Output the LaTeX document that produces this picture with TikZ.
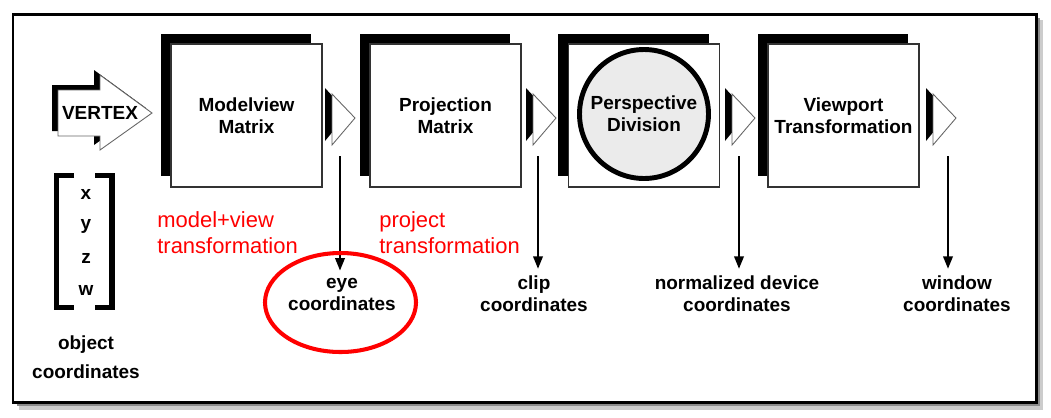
\documentclass[tikz,border=0pt]{standalone}
\usepackage{fontspec}
\setmainfont{Liberation Sans}
\usetikzlibrary{arrows.meta,shadows}

\begin{document}
\begin{tikzpicture}[x=0.02cm, y=-0.02cm,
  lbl/.style={font=\fontsize{10.8}{12.5}\selectfont\bfseries, align=center, inner sep=0pt},
  note/.style={font=\fontsize{12.5}{14.7}\selectfont, text=red, align=left, anchor=west, inner sep=0pt},
  stage/.style={lbl, draw=black!80, line width=0.6pt, fill=white,
    minimum width=3.02cm, minimum height=2.86cm,
    drop shadow={shadow xshift=-0.21cm, shadow yshift=0.21cm, fill=black, opacity=1}},
  chevron/.style={draw=black!60, line width=0.5pt, fill=white},
  down/.style={line width=0.85pt, -{Triangle[length=7pt,width=5.5pt]}, shorten >=4pt}
]
  \useasboundingbox (0,0) rectangle (1051,417);
  % frame with its shadow
  \fill[black!20] (19,20) rectangle (1043,410);
  \fill[black!45] (17,18) rectangle (1040,406);
  \fill[black!70] (15,16) rectangle (1038,404);
  \draw[line width=1.7pt, fill=white] (13,14) rectangle (1036,402);

  % VERTEX arrow
  \fill (52,85) -- (94,85) -- (94,70) -- (146,108) -- (94,145) -- (94,131) -- (52,131) -- cycle;
  \draw[chevron] (58,90) -- (100,90) -- (100,75) -- (152,113) -- (100,150) -- (100,136) -- (58,136) -- cycle;
  \node[lbl] (vertex) at (100,113) {VERTEX};

  % object vector
  \draw[line width=3.4pt] (74,175.5) -- (56.5,175.5) -- (56.5,307.5) -- (74,307.5);
  \draw[line width=3.4pt] (95,175.5) -- (112,175.5) -- (112,307.5) -- (95,307.5);
  \node[lbl] (vx) at (86,194) {x};
  \node[lbl] (vy) at (86,226) {y};
  \node[lbl] (vz) at (86,258) {z};
  \node[lbl] (vw) at (86,290) {w};
  \node[lbl] (obj) at (86,357) {object\\[4pt]coordinates};

  % stages
  \node[stage] (mv) at (246.5,115.5) {Modelview\\Matrix};
  \node[stage] (pj) at (445.5,115.5) {Projection\\Matrix};
  \node[stage] (pd) at (644,115.5) {};
  \node[lbl, circle, draw, line width=2.8pt, fill=black!8, minimum size=2.58cm] (pdc) at (644,114) {Perspective\\Division};
  \node[stage] (vp) at (843.5,115.5) {Viewport\\Transformation};

  % small arrows after each stage
  \foreach \x in {332,533,732,933} {
    \fill (\x-7,88) -- (\x+16,113) -- (\x-7,141) -- cycle;
    \draw[chevron] (\x,94) -- (\x+23,118) -- (\x,145) -- cycle;
  }

  % coordinate systems
  \node[lbl] (eye) at (342,294) {eye\\coordinates};
  \node[lbl] (clip) at (534,294) {clip\\coordinates};
  \node[lbl] (ndc) at (737,294) {normalized device\\coordinates};
  \node[lbl] (win) at (957,294) {window\\coordinates};

  \coordinate (t1) at (340,156);
  \coordinate (t2) at (538,156);
  \coordinate (t3) at (739,156);
  \coordinate (t4) at (948,156);
  \draw[down] (t1) -- (t1 |- eye.north);
  \draw[down] (t2) -- (t2 |- clip.north);
  \draw[down] (t3) -- (t3 |- ndc.north);
  \draw[down] (t4) -- (t4 |- win.north);

  % red notes
  \node[note] (mvnote) at (157,233) {model+view\\transformation};
  \node[note] (pjnote) at (379,233) {project\\transformation};
  \draw[red, line width=2.3pt] (340.5,302.5) ellipse [x radius=75.5, y radius=49.5];
\end{tikzpicture}
\end{document}
